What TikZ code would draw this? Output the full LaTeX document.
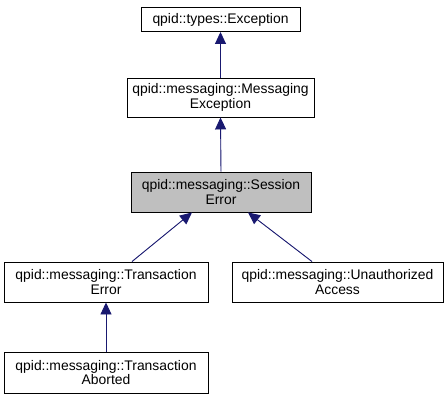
\documentclass[tikz,border=0pt]{standalone}
\usepackage{fontspec}
\setmainfont{Liberation Sans}
\usetikzlibrary{arrows.meta}
\definecolor{edgecol}{HTML}{191970}
\definecolor{grayfill}{HTML}{BFBFBF}
\begin{document}
\begin{tikzpicture}[x=1pt,y=-1pt,
  cls/.style={draw=black, line width=0.9pt, fill=white, inner sep=0pt, align=center,
    font=\fontsize{13.9}{14.5}\selectfont, anchor=center},
  inh/.style={draw=edgecol, line width=0.9pt, -{Triangle[length=12pt,width=11pt]}, fill=edgecol}]
\useasboundingbox (0,0) rectangle (448,400);
\node[cls, minimum width=159pt, minimum height=24pt] (n1) at (220.5,19.5) {qpid::types::Exception};
\node[cls, minimum width=187pt, minimum height=39pt] (n2) at (220.5,97.5) {qpid::messaging::Messaging\\Exception};
\node[cls, fill=grayfill, minimum width=180pt, minimum height=40pt] (n3) at (221,192) {qpid::messaging::Session\\Error};
\node[cls, minimum width=204pt, minimum height=40pt] (n4) at (106,282) {qpid::messaging::Transaction\\Error};
\node[cls, minimum width=211pt, minimum height=40pt] (n5) at (337.5,282) {qpid::messaging::Unauthorized\\Access};
\node[cls, minimum width=204pt, minimum height=41pt] (n6) at (106,372.5) {qpid::messaging::Transaction\\Aborted};
\draw[inh] (n2.north) -- (n1.south);
\draw[inh] (n3.north) -- (n2.south);
\draw[inh] ([xshift=26pt]n4.north) -- ([xshift=-29pt]n3.south);
\draw[inh] ([xshift=-25.5pt]n5.north) -- ([xshift=27pt]n3.south);
\draw[inh] (n6.north) -- (n4.south);
\end{tikzpicture}
\end{document}
